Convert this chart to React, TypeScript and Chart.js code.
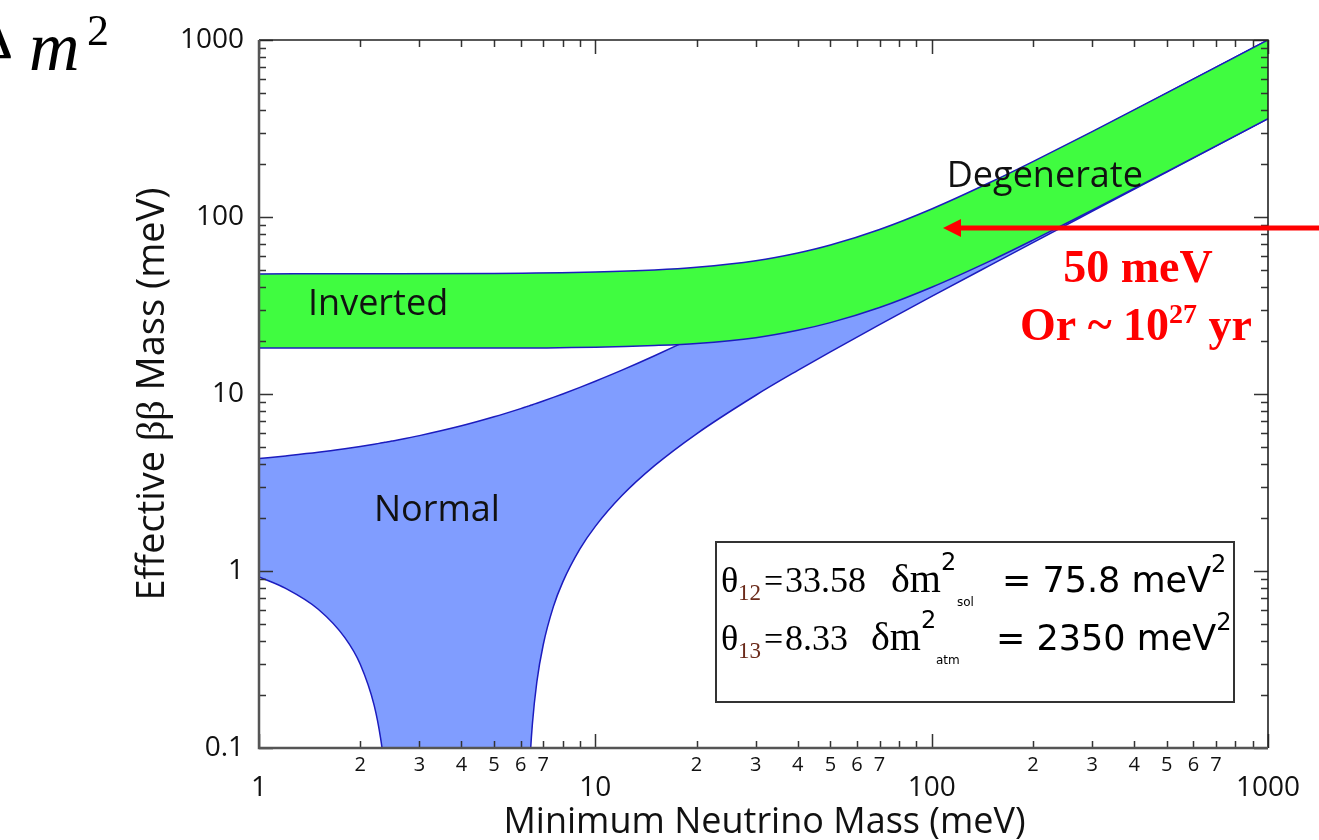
import React, { useEffect, useRef } from "react";
import { Chart, registerables } from "chart.js";

Chart.register(...registerables);

const CANVAS_W = 1319;
const CANVAS_H = 840;

// Lightest neutrino mass (meV) sampled along the normal-ordering band
const normalMass = [1, 1.2, 1.5, 1.8, 2, 2.2, 2.3, 2.35, 2.4, 2.45, 2.5, 3, 4, 5, 6, 6.2, 6.3, 6.4, 6.5, 6.7, 7, 7.5, 8, 9, 10, 12, 15, 20, 30, 40, 50, 70, 100, 150, 200, 300, 500, 1000];
// Effective mass range (meV); the lower edge drops to ~0 between ~2.5 and ~6.2 meV
const normalUpper = [4.32, 4.47, 4.68, 4.9, 5.05, 5.2, 5.28, 5.32, 5.36, 5.39, 5.43, 5.82, 6.61, 7.43, 8.27, 8.44, 8.53, 8.61, 8.7, 8.87, 9.13, 9.57, 10.01, 10.9, 11.81, 13.64, 16.45, 21.22, 30.94, 40.76, 50.64, 70.48, 100.3, 150.2, 200.2, 300.1, 500.1, 1000];
const normalLower = [0.926, 0.797, 0.608, 0.42, 0.297, 0.174, 0.113, 0.083, 0.053, 0.022, 0.001, 0.001, 0.001, 0.001, 0.001, 0.001, 0.037, 0.087, 0.137, 0.236, 0.383, 0.627, 0.865, 1.332, 1.787, 2.667, 3.935, 5.96, 9.84, 13.6, 17.32, 24.66, 35.58, 53.64, 71.66, 107.6, 179.5, 359.2];

// Inverted-ordering band
const invertedMass = [1, 2, 5, 10, 15, 20, 30, 40, 50, 70, 100, 150, 200, 300, 500, 1000];
const invertedUpper = [47.7, 47.8, 48.0, 48.9, 50.2, 52.0, 56.6, 62.6, 69.4, 85.0, 111.0, 157.6, 205.7, 303.8, 502.3, 1001];
const invertedLower = [18.2, 18.2, 18.2, 18.4, 18.8, 19.3, 20.8, 22.9, 25.3, 30.8, 40.1, 56.7, 74.0, 109.2, 180.5, 359.6];

// Axis ticks
const xMajorTicks = [1, 10, 100, 1000];
const xMajorLabels = ["1", "10", "100", "1000"];
const xDecades = [1, 10, 100];
const xMinorLabelled = [2, 3, 4, 5, 6, 7];
const yMajorTicks = [0.1, 1, 10, 100, 1000];
const yMajorLabels = ["0.1", "1", "10", "100", "1000"];
const yDecades = [0.1, 1, 10, 100];
const minorSteps = [2, 3, 4, 5, 6, 7, 8, 9];

// Region names placed at (mass, effective mass)
const bandLabels = [
  { text: "Inverted", x: 2.26, y: 32 },
  { text: "Normal", x: 3.38, y: 2.18 },
  { text: "Degenerate", x: 217, y: 168 },
];

const SANS = '"Open Sans", "DejaVu Sans", sans-serif';
const WIDE_SANS = '"DejaVu Sans", sans-serif';
const SERIF = '"Liberation Serif", "Times New Roman", serif';

const BLUE_FILL = "rgb(128,157,255)";
const GREEN_FILL = "rgb(64,252,64)";
const EDGE = "rgb(28,28,190)";

const logFramePlugin = {
  id: "logFrame",
  afterDatasetsDraw(chart: any) {
    const { ctx, chartArea: a, scales } = chart;
    const xs = scales.x;
    const ys = scales.y;
    ctx.save();
    ctx.strokeStyle = "#333";
    ctx.lineWidth = 1.5;

    const xt: { v: number; len: number }[] = [];
    xDecades.forEach((d) => minorSteps.forEach((s) => xt.push({ v: d * s, len: 7 })));
    xMajorTicks.forEach((v) => xt.push({ v, len: 14 }));
    xt.forEach(({ v, len }) => {
      const px = Math.round(xs.getPixelForValue(v)) + 0.5;
      ctx.beginPath();
      ctx.moveTo(px, a.bottom);
      ctx.lineTo(px, a.bottom - len);
      ctx.moveTo(px, a.top);
      ctx.lineTo(px, a.top + len);
      ctx.stroke();
    });

    const yt: { v: number; len: number }[] = [];
    yDecades.forEach((d) => minorSteps.forEach((s) => yt.push({ v: d * s, len: 7 })));
    yMajorTicks.forEach((v) => yt.push({ v, len: 14 }));
    yt.forEach(({ v, len }) => {
      const py = Math.round(ys.getPixelForValue(v)) + 0.5;
      ctx.beginPath();
      ctx.moveTo(a.left, py);
      ctx.lineTo(a.left + len, py);
      ctx.moveTo(a.right, py);
      ctx.lineTo(a.right - len, py);
      ctx.stroke();
    });

    // frame
    ctx.strokeStyle = "#222";
    ctx.lineWidth = 1.6;
    ctx.beginPath();
    ctx.moveTo(a.left, a.top);
    ctx.lineTo(a.right, a.top);
    ctx.lineTo(a.right, a.bottom);
    ctx.stroke();
    ctx.strokeStyle = "#555";
    ctx.lineWidth = 2.5;
    ctx.beginPath();
    ctx.moveTo(a.left, a.top);
    ctx.lineTo(a.left, a.bottom);
    ctx.lineTo(a.right, a.bottom);
    ctx.stroke();
    ctx.restore();
  },
  afterDraw(chart: any) {
    const { ctx, chartArea: a, scales } = chart;
    const xs = scales.x;
    const ys = scales.y;
    ctx.save();
    ctx.fillStyle = "#111";

    // y tick labels
    ctx.font = `28px ${SANS}`;
    ctx.textAlign = "right";
    ctx.textBaseline = "middle";
    yMajorTicks.forEach((v, i) => {
      ctx.fillText(yMajorLabels[i], a.left - 15, ys.getPixelForValue(v));
    });

    // x tick labels: decades on the lower row, 2..7 on the upper row
    ctx.textAlign = "center";
    xMajorTicks.forEach((v, i) => {
      ctx.fillText(xMajorLabels[i], xs.getPixelForValue(v), a.bottom + 40);
    });
    ctx.font = `20px ${SANS}`;
    xDecades.forEach((d) =>
      xMinorLabelled.forEach((s) => {
        ctx.fillText(String(s), xs.getPixelForValue(d * s), a.bottom + 17);
      })
    );

    // axis titles
    ctx.font = `36px ${SANS}`;
    ctx.fillText("Minimum Neutrino Mass (meV)", (a.left + a.right) / 2 + 1, a.bottom + 75);

    ctx.save();
    ctx.translate(153, (a.top + a.bottom) / 2);
    ctx.rotate(-Math.PI / 2);
    const parts = [
      { t: "Effective ", f: `38px ${SANS}` },
      { t: "ββ", f: `40px ${SERIF}` },
      { t: " Mass (meV)", f: `38px ${SANS}` },
    ];
    let total = 0;
    parts.forEach((p) => {
      ctx.font = p.f;
      total += ctx.measureText(p.t).width;
    });
    let cx = -total / 2;
    ctx.textAlign = "left";
    parts.forEach((p) => {
      ctx.font = p.f;
      ctx.fillText(p.t, cx, 0);
      cx += ctx.measureText(p.t).width;
    });
    ctx.restore();

    // band names
    ctx.font = `36px ${SANS}`;
    ctx.textAlign = "center";
    ctx.textBaseline = "middle";
    bandLabels.forEach((b) => {
      ctx.fillText(b.text, xs.getPixelForValue(b.x), ys.getPixelForValue(b.y));
    });
    ctx.restore();
  },
};

type Run = { t: string; font: string; dy?: number; at?: number; color?: string; keep?: boolean };

function drawRuns(ctx: CanvasRenderingContext2D, baseline: number, runs: Run[]) {
  let x = 0;
  runs.forEach((r) => {
    if (r.at !== undefined) x = r.at;
    ctx.font = r.font;
    ctx.fillStyle = r.color || "#000";
    ctx.fillText(r.t, x, baseline + (r.dy || 0));
    if (!r.keep) x += ctx.measureText(r.t).width;
  });
}

// Slide-level notes laid over the figure
const notesPlugin = {
  id: "slideNotes",
  afterDraw(chart: any) {
    const ctx: CanvasRenderingContext2D = chart.ctx;
    ctx.save();
    ctx.textAlign = "left";
    ctx.textBaseline = "alphabetic";

    // parameter box
    ctx.fillStyle = "#fff";
    ctx.fillRect(716, 542, 518, 160);
    ctx.strokeStyle = "#333";
    ctx.lineWidth = 2;
    ctx.strokeRect(716, 542, 518, 160);

    const sub = "#6b2b1b";
    drawRuns(ctx, 592, [
      { t: "θ", font: `36px ${SERIF}`, at: 721 },
      { t: "12", font: `23px ${SERIF}`, dy: 8, at: 738, color: sub },
      { t: "=", font: `34px ${SERIF}`, at: 764 },
      { t: "33.58", font: `36px ${SERIF}`, at: 785 },
      { t: "δm", font: `40px ${SERIF}`, at: 891 },
      { t: "2", font: `24px ${WIDE_SANS}`, dy: -22, keep: true },
      { t: "sol", font: `12px ${WIDE_SANS}`, dy: 14, at: 957 },
      { t: "= 75.8 meV", font: `35px ${WIDE_SANS}`, at: 1002 },
      { t: "2", font: `24px ${WIDE_SANS}`, dy: -20 },
    ]);
    drawRuns(ctx, 650, [
      { t: "θ", font: `36px ${SERIF}`, at: 721 },
      { t: "13", font: `23px ${SERIF}`, dy: 8, at: 738, color: sub },
      { t: "=", font: `34px ${SERIF}`, at: 764 },
      { t: "8.33", font: `36px ${SERIF}`, at: 785 },
      { t: "δm", font: `40px ${SERIF}`, at: 871 },
      { t: "2", font: `24px ${WIDE_SANS}`, dy: -22, keep: true },
      { t: "atm", font: `12px ${WIDE_SANS}`, dy: 14, at: 936 },
      { t: "= 2350 meV", font: `35px ${WIDE_SANS}`, at: 996 },
      { t: "2", font: `24px ${WIDE_SANS}`, dy: -20 },
    ]);

    // red arrow and sensitivity note
    const red = "#ff0000";
    ctx.strokeStyle = red;
    ctx.fillStyle = red;
    ctx.lineWidth = 5;
    ctx.beginPath();
    ctx.moveTo(1319, 228);
    ctx.lineTo(958, 228);
    ctx.stroke();
    ctx.beginPath();
    ctx.moveTo(943, 228);
    ctx.lineTo(961, 219);
    ctx.lineTo(961, 237);
    ctx.closePath();
    ctx.fill();

    ctx.font = `bold 46px ${SERIF}`;
    ctx.textAlign = "center";
    ctx.fillText("50 meV", 1138, 282);

    const line2: Run[] = [
      { t: "Or ~ 10", font: `bold 46px ${SERIF}` },
      { t: "27", font: `bold 28px ${SERIF}`, dy: -17 },
      { t: " yr", font: `bold 46px ${SERIF}` },
    ];
    let w2 = 0;
    line2.forEach((r) => {
      ctx.font = r.font;
      w2 += ctx.measureText(r.t).width;
    });
    ctx.textAlign = "left";
    line2[0].at = 1136 - w2 / 2;
    line2.forEach((r) => (r.color = red));
    drawRuns(ctx, 340, line2);

    // corner fragment of the Δm² heading
    ctx.fillStyle = "#000";
    ctx.font = `62px ${SERIF}`;
    const dw = ctx.measureText("Δ").width;
    ctx.fillText("Δ", 13 - dw, 58);
    ctx.font = `italic 70px ${SERIF}`;
    ctx.fillText("m", 29, 70);
    ctx.font = `44px ${SERIF}`;
    ctx.fillText("2", 87, 45);
    ctx.restore();
  },
};

export default function App() {
  const canvasRef = useRef<HTMLCanvasElement | null>(null);

  useEffect(() => {
    const canvas = canvasRef.current;
    if (!canvas) return;
    const pts = (xs: number[], ys: number[]) => xs.map((x, i) => ({ x, y: ys[i] }));
    const edge = {
      borderColor: EDGE,
      borderWidth: 1.5,
      pointRadius: 0,
      cubicInterpolationMode: "monotone" as const,
    };
    const chart = new Chart(canvas, {
      type: "line",
      data: {
        datasets: [
          {
            label: "Normal upper",
            data: pts(normalMass, normalUpper),
            ...edge,
            backgroundColor: BLUE_FILL,
            fill: "+1",
            order: 4,
          },
          {
            label: "Normal lower",
            data: pts(normalMass, normalLower),
            ...edge,
            fill: false,
            order: 3,
          },
          {
            label: "Inverted upper",
            data: pts(invertedMass, invertedUpper),
            ...edge,
            backgroundColor: GREEN_FILL,
            fill: "+1",
            order: 2,
          },
          {
            label: "Inverted lower",
            data: pts(invertedMass, invertedLower),
            ...edge,
            fill: false,
            order: 1,
          },
        ],
      },
      options: {
        responsive: false,
        maintainAspectRatio: false,
        devicePixelRatio: 1,
        animation: false,
        layout: { padding: { left: 259, right: 51, top: 40, bottom: 92 } },
        scales: {
          x: { type: "logarithmic", min: 1, max: 1000, display: false },
          y: { type: "logarithmic", min: 0.1, max: 1000, display: false },
        },
        plugins: {
          legend: { display: false },
          tooltip: { enabled: false },
        },
      },
      plugins: [logFramePlugin, notesPlugin],
    });
    return () => chart.destroy();
  }, []);

  return (
    <div style={{ position: "fixed", left: 0, top: 0, width: CANVAS_W, height: CANVAS_H, background: "#fff" }}>
      <canvas ref={canvasRef} width={CANVAS_W} height={CANVAS_H} style={{ display: "block" }} />
    </div>
  );
}
